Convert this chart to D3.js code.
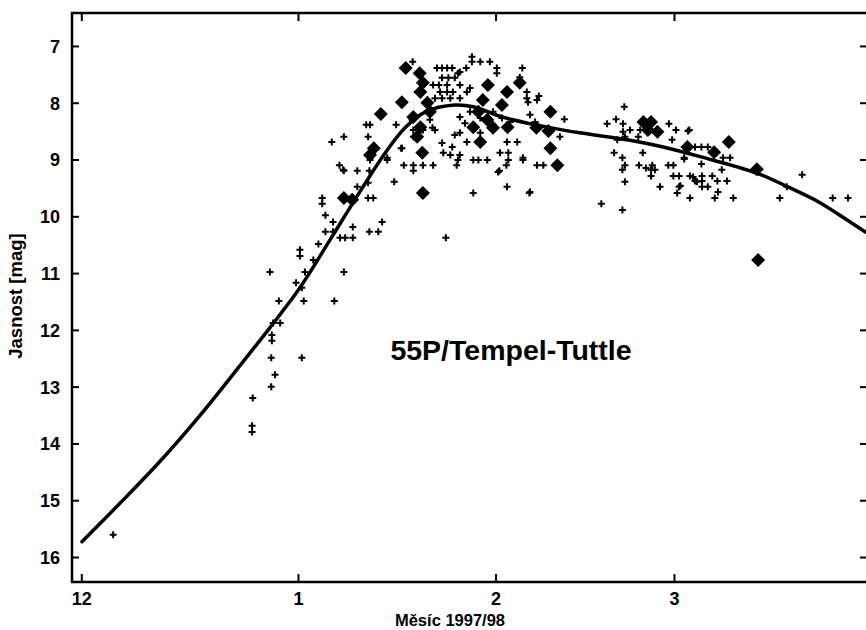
<!DOCTYPE html>
<html>
<head>
<meta charset="utf-8">
<script src="https://cdn.jsdelivr.net/npm/d3@7"></script>
<style>
  body { margin: 0; background: #fff; }
  svg text { font-family: "Liberation Sans", Arial, sans-serif; font-weight: bold; fill: #000; }
</style>
</head>
<body>
<div id="chart"></div>
<script>
// x = days since 1 Dec 1997, y = total magnitude
var xTickValues = [-3, 31, 62, 90];
var xTickLabels = ['12', '1', '2', '3'];
var yTickValues = [7, 8, 9, 10, 11, 12, 13, 14, 15, 16];

// small crosses (individual visual estimates)
var crosses = [
  [2.0,15.61],[23.8,13.69],[23.8,13.80],[28.0,11.49],[31.9,11.49],[36.7,11.49],[27.1,11.88],[28.2,11.88],
  [26.9,12.09],[26.9,12.19],[26.8,12.49],[31.6,12.49],[27.4,12.79],[26.8,13.00],[23.9,13.20],[26.6,10.98],
  [37.5,9.10],[38.2,9.20],[40.3,9.20],[42.2,9.20],[42.0,9.41],[40.3,9.48],[34.8,9.68],[34.8,9.78],
  [42.0,9.68],[42.8,9.68],[35.3,9.98],[36.5,10.10],[39.6,10.19],[35.3,10.27],[36.5,10.27],[37.6,10.38],
  [38.4,10.38],[39.6,10.38],[42.2,10.27],[43.6,10.27],[34.2,10.49],[31.3,10.59],[31.3,10.70],[33.4,10.77],
  [32.1,10.98],[38.2,10.98],[30.7,11.17],[31.6,11.26],[44.2,10.10],[54.2,10.38],[41.7,8.39],[42.3,8.39],
  [36.3,8.69],[38.2,8.60],[42.0,8.60],[47.2,8.80],[45.0,8.97],[46.1,9.39],[38.1,9.18],[42.3,9.01],
  [45.0,9.01],[47.6,9.10],[49.1,9.10],[49.1,9.20],[50.6,9.10],[52.2,9.10],[58.5,9.59],[63.8,9.48],
  [67.3,9.59],[55.9,9.10],[62.6,9.20],[63.7,9.10],[66.3,9.01],[68.5,9.10],[69.5,9.10],[67.4,9.57],
  [68.8,7.88],[72.8,8.29],[72.1,8.60],[82.2,8.07],[80.9,8.29],[79.5,8.37],[82.0,8.37],[82.0,8.51],
  [83.1,8.48],[82.3,8.60],[81.1,8.65],[84.7,8.48],[84.4,8.60],[89.2,8.37],[90.3,8.48],[92.4,8.48],
  [89.7,8.65],[80.6,8.88],[81.9,8.97],[82.3,9.10],[81.9,9.18],[84.5,9.10],[86.6,9.10],[85.6,9.15],
  [86.4,9.18],[87.0,9.18],[86.4,9.29],[89.1,9.10],[89.9,9.10],[82.3,9.39],[85.1,8.88],[89.9,9.29],
  [90.8,9.29],[87.8,9.48],[90.8,9.48],[90.5,9.59],[92.5,9.68],[78.6,9.78],[81.9,9.89],[91.6,8.97],
  [93.0,9.31],[93.6,9.39],[92.2,8.50],[93.3,8.78],[94.3,8.78],[95.3,8.78],[97.7,8.97],[98.8,8.97],
  [91.6,8.99],[94.3,9.08],[97.5,9.18],[110.1,9.27],[107.7,9.48],[92.5,9.29],[94.4,9.29],[96.0,9.29],
  [93.3,9.38],[94.4,9.38],[96.8,9.38],[98.3,9.38],[91.0,9.46],[94.4,9.48],[95.3,9.48],[96.9,9.57],
  [96.4,9.68],[99.3,9.68],[106.6,9.68],[114.9,9.68],[117.3,9.68],
  [49.0,7.28],[52.8,7.39],[53.6,7.39],[54.4,7.39],[55.2,7.39],[56.1,7.48],[57.4,7.39],[58.3,7.19],
  [58.3,7.28],[59.6,7.28],[61.1,7.28],[62.2,7.39],[62.2,7.48],[66.2,7.39],[53.6,7.56],[54.6,7.56],
  [55.6,7.56],[52.2,7.69],[53.1,7.69],[54.4,7.69],[56.4,7.69],[53.3,7.81],[54.4,7.81],[55.3,7.81],
  [57.5,7.81],[52.5,7.92],[53.6,7.92],[54.9,7.92],[56.4,7.92],[56.4,7.46],[58.0,7.74],[66.9,7.81],
  [66.9,7.92],[68.5,7.95],[55.6,8.57],[56.4,8.53],[53.6,8.71],[56.4,8.92],[54.9,8.92],[56.1,9.01],
  [52.5,8.48],[49.1,8.48],[47.3,8.80],[58.5,9.01],[59.3,9.01],[60.7,9.01],[62.7,8.88],[64.0,8.88],
  [64.0,9.01],[62.4,9.22],[63.0,8.27],[64.3,8.34],[67.4,8.21],[68.2,8.34],[56.4,8.25],[57.2,8.36],
  [58.0,8.16],[59.6,8.27],[61.6,8.16],[61.6,8.39],[63.8,8.69],[65.4,8.69],[57.5,8.69],[59.6,8.53],
  [67.1,7.99],[65.8,7.55],[66.3,8.97],[49.1,8.60],[52.1,8.44],[53.8,8.88],[55.2,8.78],[48.9,8.30],
  [50.6,8.48],[51.7,8.30],[46.4,8.39]
];

// large diamonds
var diamonds = [
  [38.2,9.68],[39.5,9.71],[44.0,8.20],[42.9,8.80],[42.3,8.92],[47.9,7.39],[50.1,7.48],[47.3,7.99],
  [49.1,8.25],[50.5,8.88],[50.2,7.81],[51.3,8.00],[50.6,7.65],[51.7,8.16],[50.2,8.43],[49.7,8.60],
  [60.8,7.69],[60.0,7.95],[59.3,8.16],[60.7,8.30],[58.5,8.43],[59.6,8.69],[61.6,8.44],[63.8,7.81],
  [65.8,7.65],[63.9,8.43],[63.0,8.04],[50.6,9.59],[70.6,8.16],[68.4,8.44],[70.3,8.50],[70.6,8.80],
  [71.7,9.10],[85.2,8.34],[86.4,8.34],[87.4,8.51],[85.9,8.48],[92.1,8.78],[98.6,8.69],[96.3,8.87],
  [103.0,9.17],[103.2,10.77]
];

// fitted light curve
var curveDays = [-2.9, 3.1, 9.4, 15.6, 21.9, 26.6, 31.3, 36.0, 40.7, 44.7, 47.8, 51.0,
  55.6, 58.5, 62.2, 64.7, 70.1, 75.2, 83.1, 88.3, 94.1, 103.0, 108.2, 112.9, 117.1, 120.1];
var curveMags = [15.73, 15.05, 14.31, 13.51, 12.63, 11.96, 11.26, 10.42, 9.57, 8.88, 8.44, 8.16,
  8.04, 8.07, 8.22, 8.30, 8.43, 8.53, 8.66, 8.78, 8.95, 9.24, 9.50, 9.76, 10.06, 10.28];

const chartWidth = 866, chartHeight = 630;
const plotLeft = 72, plotTop = 13, plotRight = 868, plotBottom = 582;

var svg = d3.select('#chart').append('svg')
  .attr('width', chartWidth)
  .attr('height', chartHeight);

var x = d3.scaleLinear().domain([-4.46, 120.44]).range([plotLeft, plotRight]);
var y = d3.scaleLinear().domain([6.42, 16.44]).range([plotTop, plotBottom]);

// axes, ticks pointing inward
var gx = svg.append('g').attr('transform', 'translate(0,' + plotBottom + ')')
  .call(d3.axisBottom(x).tickValues(xTickValues)
    .tickFormat((d, i) => xTickLabels[i]).tickSize(-8).tickPadding(10));
svg.append('g').attr('transform', 'translate(0,' + plotTop + ')')
  .call(d3.axisTop(x).tickValues(xTickValues).tickFormat('').tickSize(-8));
var gy = svg.append('g').attr('transform', 'translate(' + plotLeft + ',0)')
  .call(d3.axisLeft(y).tickValues(yTickValues).tickSize(-7).tickPadding(12));
svg.append('g').attr('transform', 'translate(' + plotRight + ',0)')
  .call(d3.axisRight(y).tickValues(yTickValues).tickFormat('').tickSize(-8));

svg.selectAll('.domain').remove();
svg.selectAll('.tick line').attr('stroke', '#000').attr('stroke-width', 2);
gx.selectAll('text').attr('font-size', 18);
gy.selectAll('text').attr('font-size', 18).attr('dy', '0.36em');

svg.append('rect')
  .attr('x', plotLeft).attr('y', plotTop)
  .attr('width', plotRight - plotLeft).attr('height', plotBottom - plotTop)
  .attr('fill', 'none').attr('stroke', '#000').attr('stroke-width', 2.5);

// crosses
svg.append('g').selectAll('path')
  .data(crosses)
  .enter()
  .append('path')
  .attr('transform', d => 'translate(' + x(d[0]) + ',' + y(d[1]) + ')')
  .attr('d', 'M-3.5,0H3.5M0,-3.5V3.5')
  .attr('stroke', '#000')
  .attr('stroke-width', 2);

// diamonds
svg.append('g').selectAll('path')
  .data(diamonds)
  .enter()
  .append('path')
  .attr('transform', d => 'translate(' + x(d[0]) + ',' + y(d[1]) + ')')
  .attr('d', 'M0,-7L7,0L0,7L-7,0Z')
  .attr('fill', '#000');

// light curve
var line = d3.line()
  .x(d => x(d[0]))
  .y(d => y(d[1]))
  .curve(d3.curveCatmullRom.alpha(0.5));

svg.append('path')
  .datum(d3.zip(curveDays, curveMags))
  .attr('d', line)
  .attr('fill', 'none')
  .attr('stroke', '#000')
  .attr('stroke-width', 3.5)
  .attr('stroke-linecap', 'round');

// labels
svg.append('text')
  .attr('transform', 'translate(22,296) rotate(-90)')
  .attr('text-anchor', 'middle')
  .attr('font-size', 18.5)
  .text('Jasnost [mag]');

svg.append('text')
  .attr('x', 450).attr('y', 626)
  .attr('text-anchor', 'middle')
  .attr('font-size', 16.5)
  .text('Měsíc 1997/98');

svg.append('text')
  .attr('x', 511).attr('y', 360)
  .attr('text-anchor', 'middle')
  .attr('font-size', 28.5)
  .text('55P/Tempel-Tuttle');
</script>
</body>
</html>
